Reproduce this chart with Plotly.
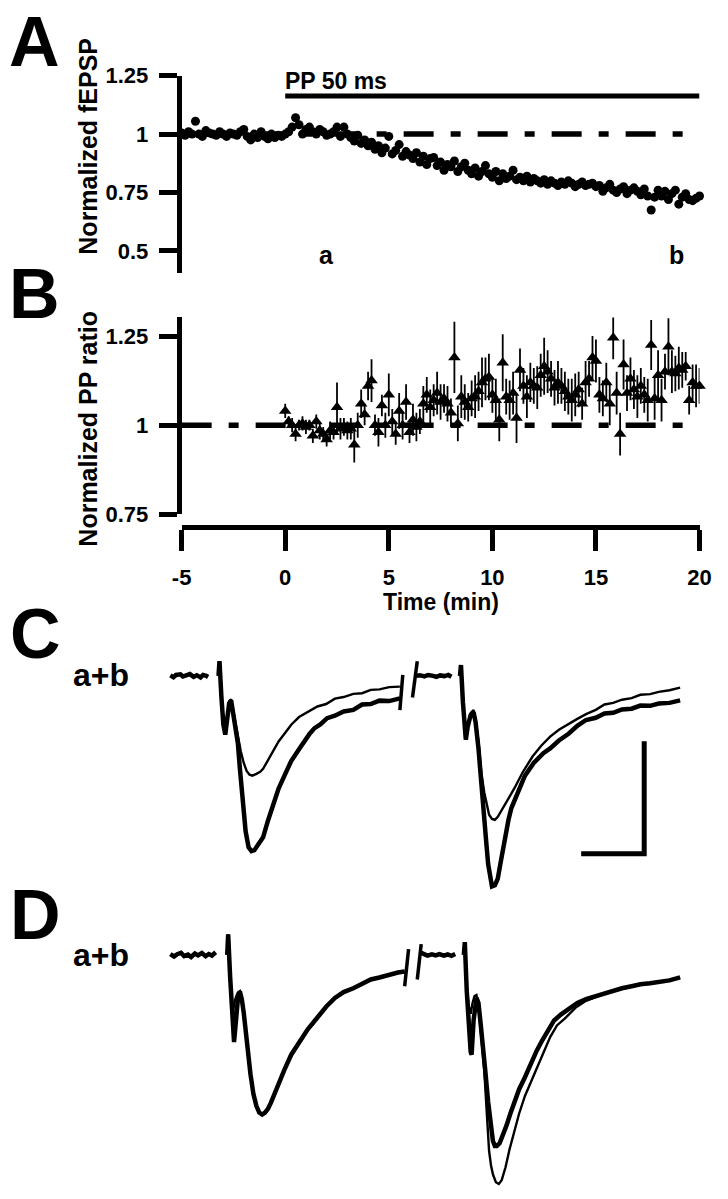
import plotly.graph_objects as go

W, H = 728, 1199
FONT = "Liberation Sans, Arial, Helvetica, sans-serif"

# ---------------- Panel A: normalized fEPSP (one sweep every 10 s) ----------------
A_T0 = -5.0
A_DT = 1 / 6
FEPSP = [
    1.005, 0.995, 1.01, 1.0, 1.055, 1.0, 0.99, 1.015, 1.005, 1.0, 0.995, 1.01, 1.0, 0.99, 1.005, 1.0,
    0.995, 1.01, 1.02, 0.99, 0.975, 1.0, 0.985, 1.01, 0.99, 0.98, 1.0, 0.985, 0.995, 0.99, 1.0,
    1.01, 1.03, 1.07, 1.04, 1.0, 1.02, 1.03, 1.01, 1.0, 1.02, 1.01, 0.995, 1.0, 1.01, 1.03, 0.99, 1.03, 1.0,
    0.985, 0.97, 0.995, 0.96, 0.975, 0.95, 0.965, 0.935, 0.95, 0.92, 0.94, 0.99, 0.915, 0.93, 0.955, 0.905, 0.925, 0.91,
    0.895, 0.92, 0.88, 0.905, 0.87, 0.895, 0.9, 0.865, 0.88, 0.845, 0.87, 0.86, 0.885, 0.84, 0.86, 0.875, 0.845, 0.83,
    0.855, 0.82, 0.84, 0.865, 0.83, 0.815, 0.84, 0.8, 0.83, 0.81, 0.82, 0.845, 0.805, 0.815, 0.8, 0.82, 0.795, 0.81,
    0.8, 0.79, 0.805, 0.785, 0.8, 0.79, 0.78, 0.795, 0.785, 0.8, 0.79, 0.775, 0.785, 0.795, 0.78, 0.785, 0.79, 0.775,
    0.78, 0.755, 0.77, 0.785, 0.76, 0.75, 0.765, 0.775, 0.745, 0.76, 0.77, 0.755, 0.74, 0.765, 0.735, 0.675, 0.73, 0.76,
    0.735, 0.755, 0.72, 0.745, 0.76, 0.7, 0.73, 0.745, 0.72, 0.715, 0.725, 0.735,
]
A_YTICKS = [0.5, 0.75, 1, 1.25]
A_YTICKTEXT = ["0.5", "0.75", "1", "1.25"]
PP_ON = (0, 20)          # paired-pulse period (min)
PP_BAR_LEVEL = 1.1625
BASELINE = 1.0

# ---------------- Panel B: normalized PP ratio ----------------
B_T0 = 0.0
B_DT = 1 / 6
PP_RATIO = [
    1.04, 1.01, 1.0, 0.975, 1.0, 1.005,
    0.995, 1.0, 0.97, 1.01, 0.985, 0.975,
    0.96, 0.985, 0.98, 1.05, 0.99, 0.995,
    0.985, 0.99, 0.945, 1.0, 1.06, 1.03,
    1.11, 1.125, 1.0, 0.98, 1.055, 1.0,
    1.085, 1.01, 0.975, 1.04, 1.0, 1.065,
    0.98, 1.015, 0.995, 1.01, 1.06, 1.085,
    1.05, 1.07, 1.09, 1.065, 1.075, 1.06,
    1.035, 1.19, 1.005, 1.08, 1.065, 1.05,
    1.075, 1.08, 1.095, 1.12, 1.13, 1.135,
    1.085, 1.07, 1.015, 1.175, 1.08, 1.07,
    1.09, 1.02, 1.155, 1.11, 1.08, 1.12,
    1.11, 1.105, 1.14, 1.165, 1.15, 1.13,
    1.105, 1.12, 1.11, 1.095, 1.08, 1.07,
    1.085, 1.1, 1.06, 1.12, 1.13, 1.19,
    1.18, 1.085, 1.075, 1.12, 1.06, 1.245,
    1.09, 0.975, 1.17, 1.09, 1.13, 1.1,
    1.08, 1.11, 1.085, 1.07, 1.225, 1.075,
    1.14, 1.07, 1.15, 1.22, 1.15, 1.145,
    1.16, 1.155, 1.165, 1.07, 1.12, 1.11,
    1.11,
]
PP_ERR = [
    0.02, 0.015, 0.02, 0.02, 0.015, 0.02,
    0.02, 0.015, 0.02, 0.02, 0.025, 0.02,
    0.02, 0.025, 0.02, 0.07, 0.03, 0.025,
    0.025, 0.03, 0.05, 0.035, 0.04, 0.03,
    0.04, 0.06, 0.03, 0.04, 0.03, 0.035,
    0.06, 0.035, 0.03, 0.05, 0.04, 0.05,
    0.03, 0.045, 0.04, 0.035, 0.05, 0.05,
    0.05, 0.045, 0.06, 0.05, 0.04, 0.05,
    0.04, 0.1, 0.05, 0.06, 0.05, 0.04,
    0.05, 0.06, 0.055, 0.07, 0.06, 0.065,
    0.05, 0.06, 0.06, 0.08, 0.05, 0.055,
    0.06, 0.07, 0.06, 0.05, 0.06, 0.055,
    0.05, 0.06, 0.06, 0.08, 0.06, 0.05,
    0.05, 0.06, 0.05, 0.055, 0.05, 0.06,
    0.06, 0.05, 0.045, 0.06, 0.05, 0.06,
    0.06, 0.05, 0.05, 0.055, 0.06, 0.06,
    0.06, 0.06, 0.07, 0.05, 0.06, 0.055,
    0.06, 0.05, 0.05, 0.06, 0.07, 0.06,
    0.07, 0.06, 0.05, 0.08, 0.06, 0.05,
    0.06, 0.05, 0.04, 0.04, 0.05, 0.06,
    0.05,
]
B_YTICKS = [0.75, 1, 1.25]
B_YTICKTEXT = ["0.75", "1", "1.25"]
X_TICKS = [-5, 0, 5, 10, 15, 20]

# ---------------- Panel C: sample fEPSPs (time ms, voltage mV) ----------------
C_PRE = [(-7.8, 0.002), (-7.3, -0.006), (-6.9, 0.004), (-6.2, 0.007), (-5.8, -0.003), (-5.1, 0.001),
         (-4.7, 0.008), (-4.1, -0.004), (-3.6, 0.003), (-3.0, -0.007), (-2.6, 0.004), (-2.1, 0.0), (-1.8, -0.005)]
C_THICK_1 = [(-0.15, 0), (0.0, 0.065), (0.31, -0.096), (0.62, -0.217), (0.92, -0.261), (1.23, -0.191),
             (1.54, -0.122), (1.85, -0.109), (2.15, -0.161), (2.62, -0.248), (2.92, -0.30), (3.23, -0.409),
             (3.54, -0.517), (3.85, -0.617), (4.15, -0.691), (4.62, -0.761), (5.08, -0.778), (5.54, -0.774),
             (5.85, -0.761), (6.31, -0.748), (6.92, -0.717), (7.69, -0.643), (8.62, -0.561), (9.38, -0.5),
             (10.31, -0.443), (11.38, -0.378), (12.62, -0.326), (13.38, -0.291), (14.31, -0.257),
             (15.08, -0.232), (16.0, -0.216), (17.08, -0.188), (18.31, -0.177), (19.69, -0.158),
             (21.23, -0.151), (22.62, -0.127), (24.0, -0.125), (25.38, -0.11), (26.92, -0.112), (28.62, -0.1)]
C_THIN_1 = [(-0.15, 0), (0.0, 0.065), (0.31, -0.096), (0.62, -0.217), (0.92, -0.261), (1.23, -0.183),
            (1.54, -0.113), (1.85, -0.104), (2.15, -0.148), (2.62, -0.226), (2.92, -0.27), (3.38, -0.335),
            (3.85, -0.387), (4.31, -0.422), (4.77, -0.439), (5.23, -0.443), (5.85, -0.435), (6.46, -0.426),
            (6.92, -0.413), (7.69, -0.374), (8.62, -0.326), (9.38, -0.291), (10.31, -0.257), (11.38, -0.217),
            (12.62, -0.183), (14.0, -0.16), (15.54, -0.136), (16.92, -0.125), (18.31, -0.101), (19.69, -0.094),
            (21.23, -0.08), (22.62, -0.077), (24.0, -0.062), (25.38, -0.06), (26.92, -0.05), (28.62, -0.048)]
C_BREAK_1 = [(29.08, 0.004), (28.62, -0.152)]
C_BREAK_2 = [(31.38, 0.065), (30.62, -0.096)]
C_MID = [(31.2, 0.0), (31.8, 0.003), (32.5, -0.002), (33.1, 0.004), (33.9, 0.0), (34.4, -0.004),
         (35.0, 0.002), (35.7, -0.001), (36.3, 0.004), (36.8, -0.004)]
C_THICK_2 = [(38.15, 0), (38.31, 0.048), (38.62, -0.117), (38.92, -0.248), (39.08, -0.283), (39.38, -0.226),
             (39.85, -0.174), (40.31, -0.161), (40.62, -0.204), (41.08, -0.32), (41.38, -0.409), (41.69, -0.517),
             (42.0, -0.626), (42.31, -0.735), (42.62, -0.835), (42.92, -0.896), (43.23, -0.935), (43.69, -0.930),
             (44.15, -0.9), (44.62, -0.826), (45.23, -0.726), (45.85, -0.639), (46.31, -0.587), (47.38, -0.509),
             (48.46, -0.443), (49.85, -0.387), (51.38, -0.343), (52.46, -0.322), (53.85, -0.287), (55.38, -0.257),
             (56.77, -0.222), (58.15, -0.196), (59.69, -0.186), (61.08, -0.167), (62.46, -0.164), (63.85, -0.149),
             (65.38, -0.146), (66.77, -0.132), (68.31, -0.133), (69.69, -0.123), (71.38, -0.12), (73.08, -0.109)]
C_THIN_2 = [(38.15, 0), (38.31, 0.048), (38.62, -0.117), (38.92, -0.248), (39.08, -0.283), (39.38, -0.217),
            (39.85, -0.165), (40.31, -0.152), (40.62, -0.191), (41.08, -0.29), (41.54, -0.430), (42.0, -0.517),
            (42.46, -0.583), (42.77, -0.617), (43.23, -0.635), (43.69, -0.639), (44.15, -0.626), (44.77, -0.596),
            (45.69, -0.552), (46.77, -0.5), (48.15, -0.426), (49.69, -0.357), (51.08, -0.309), (52.46, -0.27),
            (53.85, -0.239), (55.38, -0.213), (56.77, -0.191), (58.15, -0.17), (59.69, -0.151), (61.08, -0.127),
            (62.46, -0.12), (63.85, -0.106), (65.38, -0.099), (66.77, -0.084), (68.31, -0.081), (69.69, -0.071),
            (71.38, -0.064), (73.08, -0.052)]
SCALE_MS, SCALE_MV = 10, 0.5
SCALE_CORNER = (67.38, -0.79)

# ---------------- Panel D ----------------
D_PRE = [(-7.8, 0.004), (-7.2, -0.007), (-6.7, 0.003), (-6.1, 0.009), (-5.6, -0.005), (-5.0, 0.002),
         (-4.5, -0.009), (-3.9, 0.006), (-3.4, -0.002), (-2.8, 0.008), (-2.2, -0.006), (-1.7, 0.004),
         (-1.2, -0.003), (-0.6, 0.012)]
D_THICK_1 = [(1.23, 0), (1.38, 0.091), (1.69, -0.096), (2.0, -0.27), (2.31, -0.387), (2.62, -0.291),
             (2.92, -0.196), (3.23, -0.161), (3.54, -0.196), (3.85, -0.257), (4.15, -0.335), (4.46, -0.43),
             (4.92, -0.530), (5.38, -0.617), (5.85, -0.67), (6.31, -0.7), (6.77, -0.709), (7.23, -0.7),
             (7.69, -0.683), (8.15, -0.657), (8.62, -0.622), (9.38, -0.565), (10.31, -0.509), (11.38, -0.443),
             (12.62, -0.391), (14.0, -0.330), (15.54, -0.278), (16.92, -0.230), (18.31, -0.191), (19.69, -0.165),
             (21.23, -0.148), (22.62, -0.126), (24.0, -0.109), (25.38, -0.1), (26.92, -0.087), (28.31, -0.078),
             (29.38, -0.074)]
D_THIN_1 = [(1.23, 0), (1.38, 0.091), (1.69, -0.09), (1.92, -0.2), (2.15, -0.248), (2.46, -0.2),
            (2.85, -0.17), (3.23, -0.161), (3.54, -0.2), (3.85, -0.262), (4.15, -0.34), (4.46, -0.435),
            (4.92, -0.535), (5.38, -0.62), (5.85, -0.672), (6.31, -0.702), (6.77, -0.71), (7.23, -0.702),
            (7.69, -0.685), (8.15, -0.66), (8.62, -0.626), (9.38, -0.57), (10.31, -0.513), (11.38, -0.448),
            (12.62, -0.393), (14.0, -0.334), (15.54, -0.28), (16.92, -0.233), (18.31, -0.195), (19.69, -0.168),
            (21.23, -0.15), (22.62, -0.13), (24.0, -0.112), (25.38, -0.102), (26.92, -0.09), (28.31, -0.081),
            (29.38, -0.076)]
D_BREAK_1 = [(30.0, 0.026), (29.38, -0.139)]
D_BREAK_2 = [(32.0, 0.048), (31.38, -0.109)]
D_MID = [(31.9, 0.01), (32.4, 0.002), (33.0, -0.003), (33.7, 0.003), (34.3, -0.002), (34.9, 0.004),
         (35.6, -0.003), (36.2, 0.002), (36.8, -0.004), (37.4, 0.004)]
D_THICK_2 = [(38.77, 0), (38.92, 0.057), (39.23, -0.161), (39.54, -0.335), (39.85, -0.43), (40.0, -0.443),
             (40.31, -0.291), (40.77, -0.191), (41.08, -0.213), (41.38, -0.291), (41.69, -0.365), (42.15, -0.509),
             (42.62, -0.652), (43.08, -0.761), (43.38, -0.826), (43.69, -0.848), (44.0, -0.848), (44.46, -0.835),
             (44.77, -0.813), (45.08, -0.8), (45.54, -0.757), (46.15, -0.704), (46.77, -0.652), (47.54, -0.596),
             (48.46, -0.543), (49.38, -0.483), (50.31, -0.426), (51.23, -0.378), (52.15, -0.335), (53.08, -0.291),
             (54.15, -0.265), (55.38, -0.239), (56.77, -0.213), (58.15, -0.196), (59.69, -0.183), (61.08, -0.17),
             (62.46, -0.157), (63.85, -0.148), (65.38, -0.139), (66.77, -0.13), (68.31, -0.126), (69.69, -0.122),
             (71.38, -0.113), (73.08, -0.1)]
D_THIN_2 = [(38.77, 0), (38.92, 0.057), (39.23, -0.139), (39.54, -0.226), (39.85, -0.261), (40.15, -0.213),
            (40.46, -0.183), (40.77, -0.178), (41.08, -0.226), (41.54, -0.357), (42.0, -0.509), (42.46, -0.726),
            (42.77, -0.870), (43.08, -0.935), (43.38, -0.974), (43.85, -1.009), (44.31, -1.017), (44.77, -1.0),
            (45.38, -0.943), (46.0, -0.865), (46.77, -0.783), (47.54, -0.704), (48.46, -0.626), (49.38, -0.565),
            (50.31, -0.509), (51.38, -0.435), (52.46, -0.365), (53.54, -0.313), (54.77, -0.283), (56.46, -0.235),
            (58.15, -0.204), (59.69, -0.187), (61.08, -0.172), (62.46, -0.159), (63.85, -0.15), (65.38, -0.141),
            (66.77, -0.132), (68.31, -0.124), (69.69, -0.12), (71.38, -0.111), (73.08, -0.102)]


# ---------------- layout helpers ----------------
def px_x(p):
    return p / W


def px_y(p):
    return 1 - p / H


def unzip(pairs):
    return [p[0] for p in pairs], [p[1] for p in pairs]


BLACK = "black"
DASHDOT = "30px,17px,10px,17px"
fig = go.Figure()

# ---- Panel A ----
time_a = [A_T0 + i * A_DT for i in range(len(FEPSP))]
fig.add_trace(go.Scatter(x=[-5, 20], y=[BASELINE, BASELINE], mode="lines", xaxis="x", yaxis="y",
                         line=dict(color=BLACK, width=5.5, dash=DASHDOT), hoverinfo="skip"))
fig.add_trace(go.Scatter(x=list(PP_ON), y=[PP_BAR_LEVEL, PP_BAR_LEVEL], mode="lines", xaxis="x", yaxis="y",
                         line=dict(color=BLACK, width=5), hoverinfo="skip", cliponaxis=False))
fig.add_trace(go.Scatter(x=time_a, y=FEPSP, mode="markers", xaxis="x", yaxis="y", cliponaxis=False,
                         marker=dict(symbol="circle", size=9, color=BLACK, line=dict(width=0))))

# ---- Panel B ----
time_b = [B_T0 + i * B_DT for i in range(len(PP_RATIO))]
fig.add_trace(go.Scatter(x=[-5, 20], y=[BASELINE, BASELINE], mode="lines", xaxis="x2", yaxis="y2",
                         line=dict(color=BLACK, width=5.5, dash=DASHDOT), hoverinfo="skip"))
fig.add_trace(go.Scatter(x=time_b, y=PP_RATIO, mode="markers", xaxis="x2", yaxis="y2", cliponaxis=False,
                         error_y=dict(type="data", array=PP_ERR, visible=True, color=BLACK, thickness=1.8, width=0),
                         marker=dict(symbol="triangle-up", size=11, color=BLACK, line=dict(width=0))))


# ---- Panels C, D ----
def add_trace_line(pairs, width, xa, ya):
    t, v = unzip(pairs)
    fig.add_trace(go.Scatter(x=t, y=v, mode="lines", xaxis=xa, yaxis=ya, cliponaxis=False,
                             line=dict(color=BLACK, width=width, shape="linear"), hoverinfo="skip"))


THICK, THIN = 4.5, 2.4
for pairs, wdt in [(C_PRE, THICK), (C_THIN_1, THIN), (C_THICK_1, THICK), (C_BREAK_1, 3.5), (C_BREAK_2, 3.5),
                   (C_MID, THICK), (C_THIN_2, THIN), (C_THICK_2, THICK)]:
    add_trace_line(pairs, wdt, "x3", "y3")
cx, cy = SCALE_CORNER
fig.add_trace(go.Scatter(x=[cx - SCALE_MS, cx, cx], y=[cy, cy, cy + SCALE_MV], mode="lines",
                         xaxis="x3", yaxis="y3", line=dict(color=BLACK, width=5), hoverinfo="skip"))

for pairs, wdt in [(D_PRE, THICK), (D_THIN_1, THIN), (D_THICK_1, THICK), (D_BREAK_1, 3.5), (D_BREAK_2, 3.5),
                   (D_MID, THICK), (D_THIN_2, THIN), (D_THICK_2, THICK)]:
    add_trace_line(pairs, wdt, "x4", "y4")

tickfont = dict(family=FONT, size=22, color=BLACK, weight="bold")
xdom = [px_x(177), px_x(711)]
hidden = dict(visible=False, showgrid=False, zeroline=False)

fig.update_layout(
    width=W, height=H, autosize=False,
    margin=dict(l=0, r=0, t=0, b=0, pad=0),
    paper_bgcolor="white", plot_bgcolor="rgba(0,0,0,0)",
    showlegend=False,
    xaxis=dict(domain=xdom, range=[-5, 20], anchor="y", **hidden),
    yaxis=dict(domain=[px_y(267), px_y(65)], range=[0.4037, 1.25], anchor="x",
               showline=True, linewidth=5, linecolor=BLACK, ticks="outside", ticklen=18, tickwidth=5,
               tickcolor=BLACK, tickvals=A_YTICKS, ticktext=A_YTICKTEXT, tickfont=tickfont,
               showgrid=False, zeroline=False, ticklabelstandoff=6),
    xaxis2=dict(domain=xdom, range=[-5, 20], anchor="free", position=px_y(526),
                showline=True, linewidth=5, linecolor=BLACK, ticks="outside", ticklen=21, tickwidth=5,
                tickcolor=BLACK, tickvals=X_TICKS, ticktext=[str(v) for v in X_TICKS], tickfont=tickfont,
                showgrid=False, zeroline=False, ticklabelstandoff=8),
    yaxis2=dict(domain=[px_y(513), px_y(312)], range=[0.75, 1.302], anchor="x2",
                showline=True, linewidth=5, linecolor=BLACK, ticks="outside", ticklen=18, tickwidth=5,
                tickcolor=BLACK, tickvals=B_YTICKS, ticktext=B_YTICKTEXT, tickfont=tickfont,
                showgrid=False, zeroline=False, ticklabelstandoff=6),
    xaxis3=dict(domain=[px_x(151), px_x(716.5)], range=[-10, 77], anchor="y3", **hidden),
    yaxis3=dict(domain=[px_y(901.1), px_y(638.9)], range=[-0.97, 0.17], anchor="x3", **hidden),
    xaxis4=dict(domain=[px_x(151), px_x(716.5)], range=[-10, 77], anchor="y4", **hidden),
    yaxis4=dict(domain=[0, px_y(935.4)], range=[-1.026, 0.12], anchor="x4", **hidden),
)


def paper_text(text, x, y, size, angle=0, xanchor="center"):
    fig.add_annotation(text=text, x=px_x(x), y=px_y(y), xref="paper", yref="paper", showarrow=False,
                       xanchor=xanchor, yanchor="middle", textangle=angle,
                       font=dict(family=FONT, size=size, color=BLACK, weight="bold"))


paper_text("A", 25, 31, 70)
paper_text("B", 25, 288, 70)
paper_text("C", 26, 635, 70)
paper_text("D", 26, 922, 70)
paper_text("a+b", 94, 677, 32)
paper_text("a+b", 94, 963, 32)
paper_text("Normalized fEPSP", 81, 137, 25, angle=-90)
paper_text("Normalized PP ratio", 81, 426, 25, angle=-90)
paper_text("Time (min)", 444, 603, 23)

for text, x, y, xa in [("PP 50 ms", -0.1, 1.225, "left"), ("a", 2.0, 0.483, "center"), ("b", 18.9, 0.483, "center")]:
    fig.add_annotation(text=text, x=x, y=y, xref="x", yref="y", showarrow=False, xanchor=xa, yanchor="middle",
                       font=dict(family=FONT, size=23 if text == "PP 50 ms" else 25, color=BLACK, weight="bold"))

fig.write_html("out.html", config={"displayModeBar": False},
               post_script="document.body.style.margin='0';document.body.style.overflow='hidden';")
